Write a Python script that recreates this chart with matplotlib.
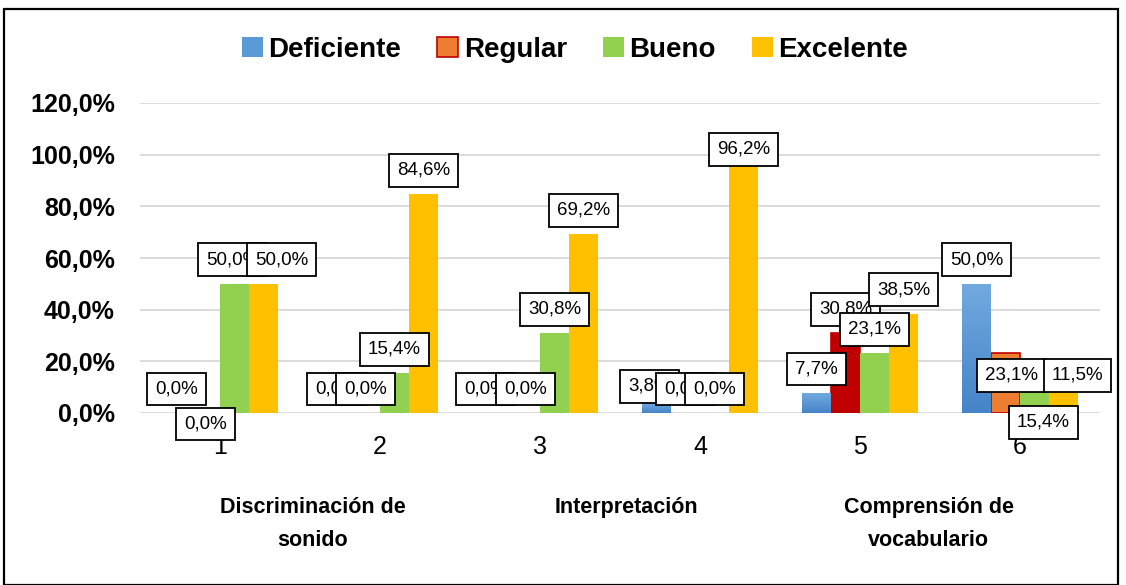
import matplotlib
matplotlib.use("Agg")
import matplotlib.pyplot as plt
import numpy as np
from matplotlib import font_manager
from matplotlib.patches import Rectangle, Patch

# data
groups = ["1", "2", "3", "4", "5", "6"]
series = ["Deficiente", "Regular", "Bueno", "Excelente"]
deficiente = [0.0, 0.0, 0.0, 3.8, 7.7, 50.0]
regular = [0.0, 0.0, 0.0, 0.0, 30.8, 23.1]
bueno = [50.0, 15.4, 30.8, 0.0, 23.1, 15.4]
excelente = [50.0, 84.6, 69.2, 96.2, 38.5, 11.5]
dimensiones = ["Discriminación de\nsonido", "Interpretación", "Comprensión de\nvocabulario"]
yticks = [0, 20, 40, 60, 80, 100, 120]

names = [f.name for f in font_manager.fontManager.ttflist]
base_font = "Liberation Sans" if "Liberation Sans" in names else "DejaVu Sans"
narrow_font = "Liberation Sans Narrow" if "Liberation Sans Narrow" in names else base_font
label_size = 16.5 if narrow_font != base_font else 13.5
plt.rcParams["font.family"] = [base_font]

fig = plt.figure(figsize=(11.26, 5.85), dpi=100)
ax = fig.add_axes([140 / 1126, (585 - 413) / 585, 960 / 1126, 310 / 585])

x = np.arange(1, len(groups) + 1)
w = 0.181
values = [deficiente, regular, bueno, excelente]

# regular bars: dark red in group 5, orange with red edge elsewhere
reg_face = ["#ED7D31", "#ED7D31", "#ED7D31", "#ED7D31", "#C00000", "#ED7D31"]
colors = ["#5B9BD5", reg_face, "#92D050", "#FFC000"]

containers = []
for i, vals in enumerate(values):
    lw = [1.2 if (i == 1 and v > 0) else 0 for v in vals]
    bars = ax.bar(x + (i - 1.5) * w, vals, w, color=colors[i],
                  edgecolor="#C00000" if i == 1 else "none", linewidth=lw, zorder=2)
    containers.append(bars)

# soft gradient on the blue bars
grad = np.linspace(0, 1, 100).reshape(-1, 1)
cmap = matplotlib.colors.LinearSegmentedColormap.from_list("b", ["#4584C8", "#72A9DF"])
for b in containers[0]:
    if b.get_height() <= 0:
        continue
    im = ax.imshow(grad, cmap=cmap, aspect="auto", origin="lower",
                   extent=[b.get_x(), b.get_x() + b.get_width(), 0, b.get_height()],
                   zorder=2.1)
    im.set_clip_path(b)

ax.set_xlim(0.5, 6.5)
ax.set_ylim(0, 120)
ax.set_yticks(yticks)
ax.set_yticklabels([f"{v},0%" for v in yticks], fontsize=18, fontweight="bold")
ax.set_xticks(x)
ax.set_xticklabels(groups, fontsize=18)
ax.tick_params(axis="both", length=0)
ax.tick_params(axis="x", pad=16)
ax.tick_params(axis="y", pad=18)
ax.grid(axis="y", color="#D9D9D9", linewidth=1.3, zorder=0)
ax.set_axisbelow(True)
for s in ax.spines.values():
    s.set_visible(False)

# data label offsets in pixels from the default spot (g, series) -> (dx, dy)
offsets = {
    (0, 1): (0, -35), (0, 2): (-2, 0), (0, 3): (18, 0),
    (2, 0): (-11, 0),
    (3, 0): (-7, -7), (3, 3): (0, -9),
    (5, 1): (6, -46), (5, 2): (9, -73), (5, 3): (14, -16),
}
for i, vals in enumerate(values):
    for g, v in enumerate(vals):
        dx, dy = offsets.get((g, i), (0, 0))
        txt = f"{v:.1f}%".replace(".", ",")
        ax.annotate(txt, (x[g] + (i - 1.5) * w, v), xytext=(dx, 24 + dy),
                    textcoords="offset pixels", ha="center", va="center",
                    fontsize=label_size, family=narrow_font, zorder=5,
                    annotation_clip=False,
                    bbox=dict(boxstyle="square,pad=0.42", fc="white", ec="black", lw=1.3))

# dimension labels under pairs of items
for pos, lab in zip([1.58, 3.54, 5.43], dimensiones):
    ax.text(pos, -32.5, lab, ha="center", va="top", fontsize=15.5,
            fontweight="bold", linespacing=1.75)

handles = [Patch(facecolor=colors[0], edgecolor="none"),
           Patch(facecolor="#ED7D31", edgecolor="#C00000", linewidth=1.2),
           Patch(facecolor=colors[2], edgecolor="none"),
           Patch(facecolor=colors[3], edgecolor="none")]
leg = fig.legend(handles, series, loc="center", bbox_to_anchor=(575 / 1126, 1 - 50 / 585),
                 ncol=4, frameon=False, prop={"size": 20, "weight": "bold"},
                 handlelength=0.75, handleheight=0.75, handletextpad=0.2,
                 columnspacing=1.3)

fig.patches.append(Rectangle((4 / 1126, 0.5 / 585), 1114 / 1126, (585 - 9.5) / 585,
                             transform=fig.transFigure, fill=False,
                             edgecolor="black", linewidth=1.6))

fig.savefig("out.png", dpi=100)
